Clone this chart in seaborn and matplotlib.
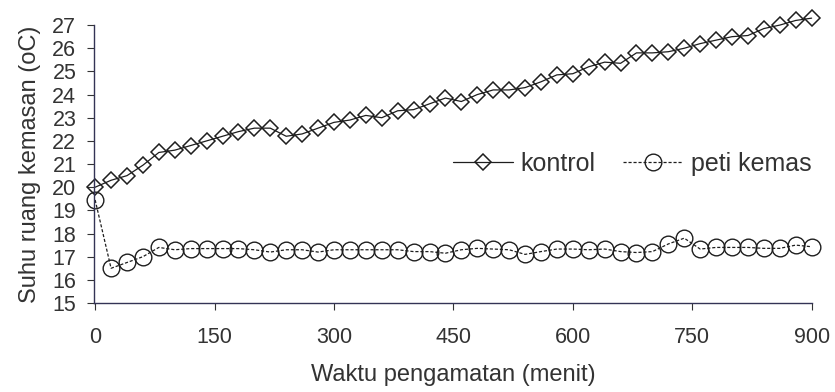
import numpy as np
import pandas as pd
import matplotlib
matplotlib.use('Agg')
import matplotlib.pyplot as plt
import seaborn as sns

# Waktu pengamatan (menit), one reading every 20 minutes
waktu = list(range(0, 901, 20))

kontrol = [20.0, 20.3, 20.5, 20.95, 21.5, 21.6, 21.8, 22.0, 22.2, 22.4,
           22.55, 22.55, 22.2, 22.3, 22.55, 22.8, 22.9, 23.1, 23.0, 23.3,
           23.35, 23.6, 23.85, 23.7, 24.0, 24.2, 24.2, 24.3, 24.55, 24.85,
           24.9, 25.2, 25.4, 25.35, 25.8, 25.8, 25.85, 26.0, 26.2, 26.35,
           26.5, 26.55, 26.85, 27.0, 27.2, 27.3]

peti_kemas = [19.45, 16.5, 16.75, 17.0, 17.4, 17.3, 17.35, 17.35, 17.35, 17.35,
              17.3, 17.2, 17.3, 17.3, 17.2, 17.3, 17.3, 17.3, 17.3, 17.3,
              17.22, 17.22, 17.15, 17.3, 17.36, 17.33, 17.3, 17.1, 17.22, 17.33,
              17.33, 17.3, 17.33, 17.22, 17.18, 17.22, 17.55, 17.8, 17.33, 17.4,
              17.4, 17.4, 17.36, 17.36, 17.5, 17.43]

df = pd.DataFrame({'waktu': waktu, 'kontrol': kontrol, 'peti kemas': peti_kemas})

sns.set_style('white')
plt.rcParams['font.family'] = ['Liberation Sans', 'DejaVu Sans']

ink = '#1e1e1e'
fig, ax = plt.subplots(figsize=(8.35, 3.92), dpi=100)
fig.subplots_adjust(left=0.113, right=0.972, top=0.936, bottom=0.227)

sns.lineplot(data=df, x='waktu', y='kontrol', ax=ax, color=ink, lw=0.9,
             marker='D', markersize=8.5, markerfacecolor='none',
             markeredgecolor=ink, markeredgewidth=1.1, clip_on=False,
             label='kontrol')
sns.lineplot(data=df, x='waktu', y='peti kemas', ax=ax, color=ink, lw=0.9,
             linestyle=(0, (2.5, 1.5)), marker='o', markersize=12,
             markerfacecolor='none', markeredgecolor=ink, markeredgewidth=1.0,
             clip_on=False, label='peti kemas')

ax.set_xlim(-1, 900)
ax.set_ylim(15, 27)
ax.set_xticks(range(0, 901, 150))
ax.set_yticks(range(15, 28))
sns.despine(ax=ax)
for s in ['left', 'bottom']:
    ax.spines[s].set_color('#333355')
    ax.spines[s].set_linewidth(1.0)

ax.tick_params(axis='y', direction='out', length=5, pad=8, labelsize=15.5,
               colors='#333333', left=True)
ax.tick_params(axis='x', direction='out', length=5, pad=12, labelsize=15.5,
               colors='#333333', bottom=True)

ax.set_xlabel('Waktu pengamatan (menit)', fontsize=17, color='#333333', labelpad=12)
ax.set_ylabel('Suhu ruang kemasan (oC)', fontsize=17, color='#333333', labelpad=8)

ax.legend(loc='center', bbox_to_anchor=(0.75, 0.5), ncol=2, frameon=False,
          fontsize=18, handlelength=2.4, columnspacing=1.1, handletextpad=0.3,
          labelcolor='#333333')

plt.savefig('out.png', dpi=100)
